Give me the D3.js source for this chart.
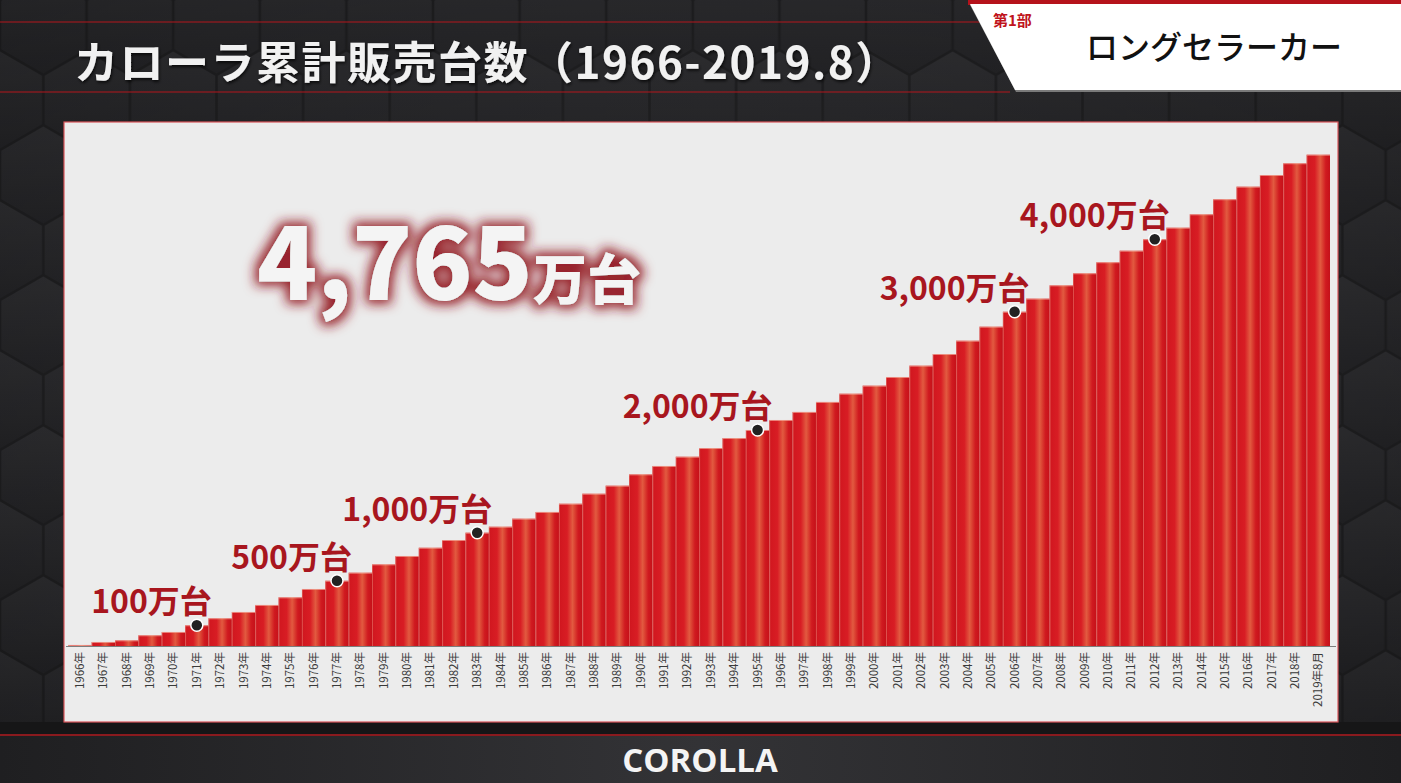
<!DOCTYPE html>
<html><head><meta charset="utf-8">
<script src="https://cdn.jsdelivr.net/npm/d3@7"></script>
<style>
html,body{margin:0;padding:0;background:#262628;overflow:hidden}
svg{display:block}
</style></head>
<body>
<script>
// ---- DATA ----
const categories = ["1966年","1967年","1968年","1969年","1970年","1971年","1972年","1973年","1974年","1975年",
"1976年","1977年","1978年","1979年","1980年","1981年","1982年","1983年","1984年","1985年",
"1986年","1987年","1988年","1989年","1990年","1991年","1992年","1993年","1994年","1995年",
"1996年","1997年","1998年","1999年","2000年","2001年","2002年","2003年","2004年","2005年",
"2006年","2007年","2008年","2009年","2010年","2011年","2012年","2013年","2014年","2015年",
"2016年","2017年","2018年","2019年8月"];
// cumulative sales (万台)
const cumulative = [10,39,55,104,136,201,269,330,398,472,
553,633,711,792,873,953,1028,1099,1157,1235,
1300,1380,1477,1555,1665,1746,1836,1920,2017,2095,
2192,2270,2367,2447,2525,2609,2719,2832,2961,3097,
3242,3369,3498,3615,3722,3834,3945,4057,4187,4333,
4455,4568,4682,4765];
const milestoneLabels = ["100万台","500万台","1,000万台","2,000万台","3,000万台","4,000万台"];
const milestoneYears  = ["1971年","1977年","1983年","1995年","2006年","2012年"];
const totalNumber = "4,765";
const totalUnit = "万台";
const titleText = "カローラ累計販売台数（1966-2019.8）";
const sectionText = "第1部";
const sectionTitle = "ロングセラーカー";
const footerText = "COROLLA";

// ---- LAYOUT ----
const W = 1401, H = 783;
const panel = {x:64, y:122, w:1274, h:600};
const baseY = 646;

const svg = d3.select("body").append("svg").attr("width", W).attr("height", H);
const defs = svg.append("defs");

// background hex pattern
const hexR = 50;
const hw = Math.sqrt(3) * hexR;
const pat = defs.append("pattern").attr("id","hex").attr("patternUnits","userSpaceOnUse")
  .attr("width", hw).attr("height", hexR*3);
function hexPath(cx, cy, r){
  const pts = d3.range(6).map(i => { const a = Math.PI/3*i + Math.PI/6; return [cx + r*Math.cos(a), cy + r*Math.sin(a)]; });
  return "M" + pts.map(p => p.join(",")).join("L") + "Z";
}
const hg = defs.append("linearGradient").attr("id","hexg").attr("x1",0).attr("y1",0).attr("x2",0).attr("y2",1);
hg.append("stop").attr("offset","0%").attr("stop-color","#333336");
hg.append("stop").attr("offset","100%").attr("stop-color","#27272a");
pat.append("rect").attr("width", hw).attr("height", hexR*3).attr("fill","#222224");
[[hw/2, hexR*0.5],[0, hexR*2],[hw, hexR*2],[hw/2, hexR*3.5],[0,-hexR],[hw,-hexR]].forEach(c => {
  pat.append("path").attr("d", hexPath(c[0], c[1], hexR-1.5)).attr("fill","url(#hexg)");
});
svg.append("rect").attr("width", W).attr("height", H).attr("fill","url(#hex)");
const vg = defs.append("radialGradient").attr("id","vig").attr("cx","50%").attr("cy","45%").attr("r","75%");
vg.append("stop").attr("offset","0%").attr("stop-color","#000").attr("stop-opacity",0.0);
vg.append("stop").attr("offset","100%").attr("stop-color","#000").attr("stop-opacity",0.3);
svg.append("rect").attr("width", W).attr("height", H).attr("fill","url(#vig)");

// header red lines
const glow = defs.append("filter").attr("id","lineglow").attr("x","-5%").attr("y","-300%").attr("width","110%").attr("height","700%");
glow.append("feGaussianBlur").attr("stdDeviation",1.5);
[22, 92].forEach(yy => {
  svg.append("line").attr("x1",0).attr("x2",1010).attr("y1",yy).attr("y2",yy)
    .attr("stroke","#c01a20").attr("stroke-width",3).attr("opacity",0.6).attr("filter","url(#lineglow)");
  svg.append("line").attr("x1",0).attr("x2",1010).attr("y1",yy).attr("y2",yy)
    .attr("stroke","#b3161c").attr("stroke-width",1.2);
});

// title
const tshadow = defs.append("filter").attr("id","tshadow");
tshadow.append("feDropShadow").attr("dx",1).attr("dy",2).attr("stdDeviation",1.5).attr("flood-color","#000").attr("flood-opacity",0.7);
svg.append("text").attr("x",74).attr("y",79)
  .attr("font-family","'Noto Sans CJK JP'").attr("font-weight",700).attr("font-size",44)
  .attr("letter-spacing",1.5)
  .attr("fill","#f1f1f1").attr("filter","url(#tshadow)").text(titleText);

// top right section box
svg.append("rect").attr("x",968).attr("y",0).attr("width",W-968).attr("height",5).attr("fill","#b5121b");
svg.append("path").attr("d","M970,5L1401,5L1401,92L1016,92Z").attr("fill","#7a7a7a");
svg.append("path").attr("d","M970,4L1401,4L1401,90L1015,90Z").attr("fill","#ffffff");
svg.append("text").attr("x",993).attr("y",26)
  .attr("font-family","'Noto Sans CJK JP'").attr("font-weight",700).attr("font-size",15)
  .attr("fill","#c0141c").text(sectionText);
svg.append("text").attr("x",1214).attr("y",59).attr("text-anchor","middle")
  .attr("font-family","'Noto Sans CJK JP'").attr("font-weight",500).attr("font-size",32)
  .attr("fill","#111").text(sectionTitle);

// footer
svg.append("rect").attr("x",0).attr("y",722).attr("width",W).attr("height",14).attr("fill","#161617");
const fg = defs.append("linearGradient").attr("id","footg").attr("x1",0).attr("x2",1).attr("y1",0).attr("y2",0);
fg.append("stop").attr("offset","0%").attr("stop-color","#1f1f21");
fg.append("stop").attr("offset","50%").attr("stop-color","#333336");
fg.append("stop").attr("offset","100%").attr("stop-color","#1f1f21");
svg.append("rect").attr("x",0).attr("y",736).attr("width",W).attr("height",H-736).attr("fill","url(#footg)");
svg.append("line").attr("x1",0).attr("x2",W).attr("y1",735).attr("y2",735).attr("stroke","#8a1a1e").attr("stroke-width",2);
svg.append("text").attr("x",700).attr("y",772).attr("text-anchor","middle")
  .attr("font-family","'Open Sans'").attr("font-weight",700).attr("font-size",33)
  .attr("fill","#f4f4f4").text(footerText);

// chart panel
svg.append("rect").attr("x",panel.x).attr("y",panel.y).attr("width",panel.w).attr("height",panel.h)
  .attr("fill","#ececec").attr("stroke","#d9555a").attr("stroke-width",1.2);

// scales
const x = d3.scaleBand().domain(categories).range([68.3, 1330]).padding(0);
const y = d3.scaleLinear().domain([0, 4765]).range([baseY, 154.7]);

// bar gradient
const bg = defs.append("linearGradient").attr("id","barg").attr("x1",0).attr("x2",1).attr("y1",0).attr("y2",0);
[["0%","#c9141c"],["8%","#d21820"],["35%","#d81d24"],["58%","#e25a40"],["66%","#dc4634"],["82%","#d01a20"],["100%","#c51119"]]
  .forEach(s => bg.append("stop").attr("offset",s[0]).attr("stop-color",s[1]));

const g = svg.append("g");
g.selectAll("rect.bar").data(cumulative).join("rect").attr("class","bar")
  .attr("x",(d,i)=>x(categories[i])).attr("width",x.bandwidth())
  .attr("y",d=>y(d)).attr("height",d=>baseY - y(d))
  .attr("fill","url(#barg)");
g.selectAll("line.sep").data(cumulative).join("line").attr("class","sep")
  .attr("x1",(d,i)=>x(categories[i])+0.5).attr("x2",(d,i)=>x(categories[i])+0.5)
  .attr("y1",d=>y(d)).attr("y2",baseY)
  .attr("stroke","#f08a7a").attr("stroke-width",0.8).attr("opacity",0.6);
g.selectAll("line.top").data(cumulative).join("line").attr("class","top")
  .attr("x1",(d,i)=>x(categories[i])).attr("x2",(d,i)=>x(categories[i])+x.bandwidth())
  .attr("y1",d=>y(d)+0.5).attr("y2",d=>y(d)+0.5)
  .attr("stroke","#f3b0a0").attr("stroke-width",1).attr("opacity",0.7);

// baseline
svg.append("line").attr("x1",panel.x+2).attr("x2",panel.x+panel.w-2).attr("y1",baseY+0.5).attr("y2",baseY+0.5)
  .attr("stroke","#7d7d7d").attr("stroke-width",1.2);

// x axis
const axis = svg.append("g").attr("transform",`translate(0,${baseY})`)
  .call(d3.axisBottom(x).tickSize(0).tickSizeOuter(0));
axis.select(".domain").remove();
axis.selectAll("text")
  .attr("transform","rotate(-90)").attr("text-anchor","end")
  .attr("x",-6).attr("y",0).attr("dy","0.35em")
  .attr("font-family","'Noto Sans CJK JP'").attr("font-size",11.5).attr("fill","#3a3a3a");

// big total
const bigF = defs.append("filter").attr("id","bigglow").attr("x","-20%").attr("y","-40%").attr("width","140%").attr("height","180%");
bigF.append("feMorphology").attr("in","SourceAlpha").attr("operator","dilate").attr("radius",4).attr("result","d");
bigF.append("feGaussianBlur").attr("in","d").attr("stdDeviation",6).attr("result","b");
bigF.append("feFlood").attr("flood-color","#931a22").attr("flood-opacity",0.95);
bigF.append("feComposite").attr("in2","b").attr("operator","in").attr("result","gl");
const fm = bigF.append("feMerge");
fm.append("feMergeNode").attr("in","gl");
fm.append("feMergeNode").attr("in","SourceGraphic");
const big = svg.append("text").attr("x",257).attr("y",300)
  .attr("font-family","'Noto Sans CJK JP'").attr("font-weight",900).attr("fill","#f4f4f4")
  .attr("filter","url(#bigglow)");
big.append("tspan").attr("font-size",99).attr("letter-spacing",0).text(totalNumber);
big.append("tspan").attr("font-size",54).text(totalUnit);

// milestones
const ms = milestoneYears.map((yr,i) => ({label: milestoneLabels[i], cx: x(yr) + x.bandwidth()/2, cy: y(cumulative[categories.indexOf(yr)])}));
svg.selectAll("text.ms").data(ms).join("text").attr("class","ms")
  .attr("x",d=>d.cx+15).attr("y",d=>d.cy-12).attr("text-anchor","end")
  .attr("font-family","'Noto Sans CJK JP'").attr("font-weight",700).attr("font-size",32)
  .attr("fill","#a8161e").text(d=>d.label);
svg.selectAll("circle.ms").data(ms).join("circle").attr("class","ms")
  .attr("cx",d=>d.cx).attr("cy",d=>d.cy).attr("r",6)
  .attr("fill","#222").attr("stroke","#fff").attr("stroke-width",1.5);
</script>
</body></html>
